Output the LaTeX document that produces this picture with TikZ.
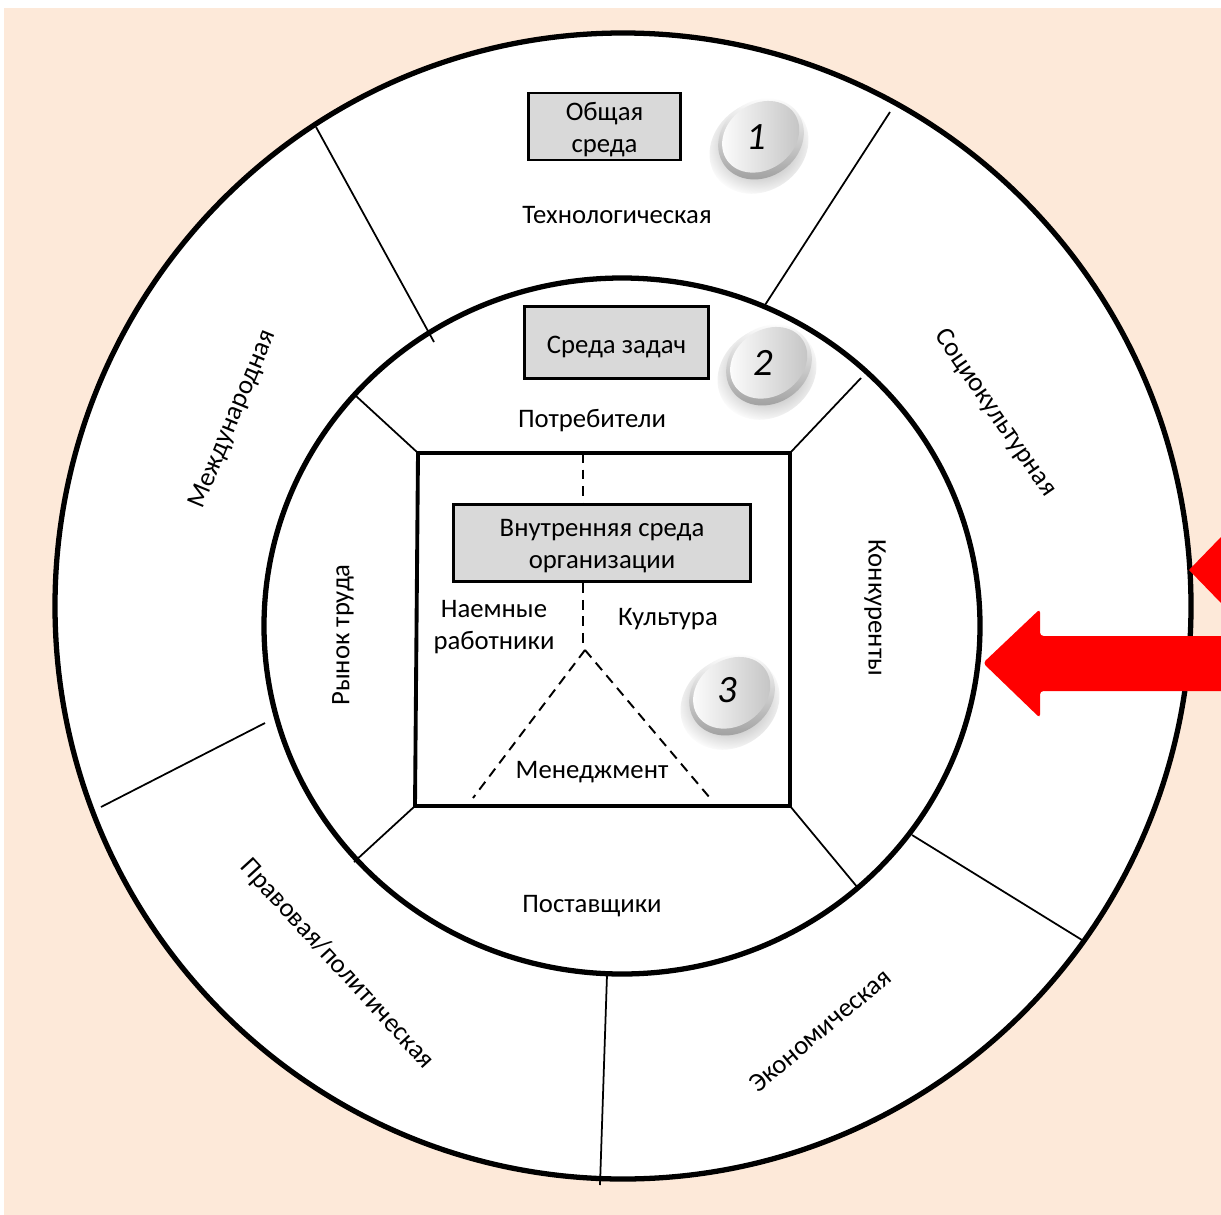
\documentclass[tikz,border=0pt]{standalone}
\usepackage{fontspec}
\setmainfont{Carlito}
\usetikzlibrary{fadings}
\definecolor{fondo}{HTML}{FDE9D9}
\definecolor{boxgray}{HTML}{D9D9D9}
\tikzfading[name=softpill, inner color=transparent!55, outer color=transparent!100]
\newcommand{\boxtext}[2]{\raisebox{0pt}[\dimexpr\height+#1\relax]{#2}}
\tikzset{
	lbl/.style={font=\fontsize{7.6}{9.1}\selectfont, align=center, inner sep=0pt},
	graybox/.style={lbl, draw=black, fill=boxgray, line width=0.8pt},
	ring/.style={draw=black, line width=1.5pt},
	spoke/.style={draw=black, line width=0.5pt},
	dashline/.style={draw=black, line width=0.55pt, dash pattern=on 2.8pt off 1.9pt}
}
\begin{document}
\begin{tikzpicture}[x=0.01cm, y=-0.01cm]
	\useasboundingbox (0,0) rectangle (1221,1215);
	% --- Background ---
	\fill[fondo] (4,8) rectangle (1221,1215);

	% --- Rings ---
	\draw[ring, fill=white] (623,606) ellipse [x radius=568, y radius=573];
	\draw[ring] (622,626) ellipse [x radius=358, y radius=348];

	% --- Spokes of the outer ring ---
	\coordinate (techA) at (316,127);
	\coordinate (techB) at (434,342);
	\coordinate (socA) at (890,112);
	\coordinate (socB) at (765,305);
	\coordinate (ecoA) at (912,835);
	\coordinate (ecoB) at (1082,940);
	\coordinate (lawA) at (607,975);
	\coordinate (lawB) at (600,1185);
	\coordinate (intA) at (265,723);
	\coordinate (intB) at (101,807);
	\foreach \a/\b in {techA/techB, socA/socB, ecoA/ecoB, lawA/lawB, intA/intB}
		\draw[spoke] (\a) -- (\b);

	% --- Inner square and its spokes ---
	\coordinate (sqNW) at (418,453);
	\coordinate (sqNE) at (790,453);
	\coordinate (sqSE) at (790,806);
	\coordinate (sqSW) at (415,806);
	\coordinate (rimNW) at (356,396);
	\coordinate (rimNE) at (861,378);
	\coordinate (rimSE) at (858,888);
	\coordinate (rimSW) at (354,862);
	\foreach \a/\b in {sqNW/rimNW, sqNE/rimNE, sqSE/rimSE, sqSW/rimSW}
		\draw[spoke] (\a) -- (\b);
	\draw[draw=black, line width=1.1pt] (sqNW) -- (sqNE) -- (sqSE) -- (sqSW) -- cycle;

	% --- Boxes ---
	\node[graybox, minimum width=43.4pt, minimum height=19pt] (general) at (604.5,126.5) {\boxtext{1.7pt}{\shortstack{Общая\\[1.3pt]среда}}};
	\node[graybox, minimum width=52.4pt, minimum height=20.7pt] (task) at (616.5,342.5) {\boxtext{2.3pt}{Среда задач}};
	\node[graybox, minimum width=84.5pt, minimum height=22.1pt] (internal) at (602,543) {\boxtext{1.7pt}{\shortstack{Внутренняя среда\\[1.3pt]организации}}};

	% --- Dashed lines ---
	\coordinate (topMid) at (583,453);
	\coordinate (centre) at (583,645);
	\coordinate (apex) at (585,650);
	\coordinate (footL) at (473,798);
	\coordinate (footR) at (710,798);
	\draw[dashline] (topMid) -- (topMid |- internal.north);
	\draw[dashline] (topMid |- internal.south) -- (centre);
	\draw[dashline] (apex) -- (footL);
	\draw[dashline] (apex) -- (footR);

	% --- Labels ---
	\node[lbl] (tech) at (617,215) {Технологическая};
	\node[lbl, rotate=67.5] (intl) at (233,419) {Международная};
	\node[lbl, rotate=-55.5] (soc) at (995,413) {Социокультурная};
	\node[lbl, rotate=-47.5] (law) at (337,964) {Правовая/политическая};
	\node[lbl, rotate=40] (eco) at (820,1030) {Экономическая};
	\node[lbl] (cons) at (592,421) {Потребители};
	\node[lbl, rotate=90] (labor) at (343,635) {Рынок труда};
	\node[lbl, rotate=-90] (comp) at (875,608) {Конкуренты};
	\node[lbl] (supp) at (592,906) {Поставщики};
	\node[lbl] (staff) at (494,627) {Наемные\\работники};
	\node[lbl] (cult) at (668,619) {Культура};
	\node[lbl] (mgmt) at (592,772) {Менеджмент};

	% --- Pills ---
	\foreach \px/\py/\dx/\dy/\num in {761/139/-5/-2/1, 769/365/-6/-2/2, 732/695/-5/-5/3}{
		\begin{scope}[shift={(\px,\py)}]
			\fill[black, path fading=softpill, shift={(-2,8)}, rotate=35] (0,0) ellipse [x radius=52, y radius=44];
			\shade[rotate=35, shading angle=-35, top color=white, bottom color=black!38] (0,0) ellipse [x radius=45, y radius=38];
			\shade[rotate=35, left color=white, right color=black!24] (1,-2) ellipse [x radius=41, y radius=33];
		\end{scope}
		\node[font=\fontsize{11}{11}\selectfont\itshape, inner sep=0pt] (pill\num) at (\px+\dx,\py+\dy) {\num};
	}

	% --- Red arrows ---
	\fill[red, rounded corners=1pt] (983,663) -- (1040,609) -- (1040,636) -- (1226,636)
		-- (1226,691) -- (1040,691) -- (1040,718) -- cycle;
	\fill[red] (1189,570) -- (1221,537) -- (1221,603) -- cycle;
\end{tikzpicture}
\end{document}
